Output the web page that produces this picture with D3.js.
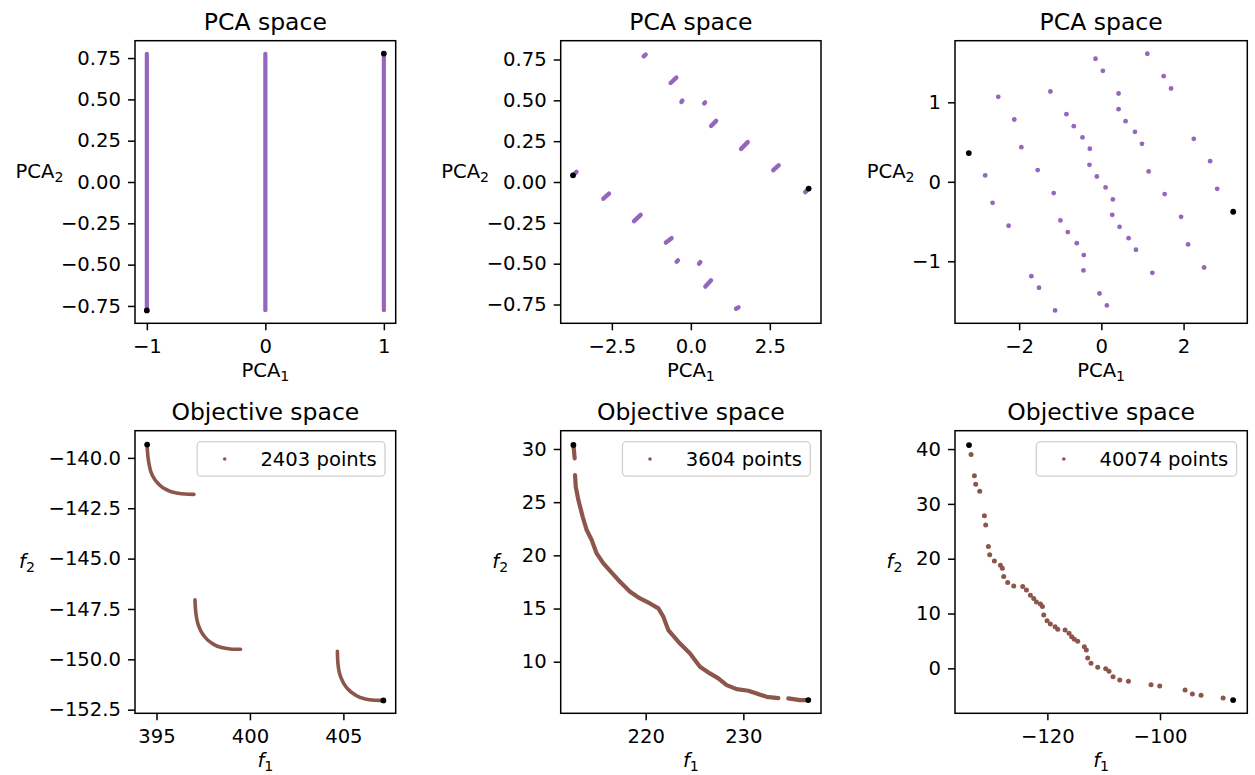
<!DOCTYPE html>
<html><head><meta charset="utf-8">
<script src="https://cdn.jsdelivr.net/npm/d3@7"></script>
<style>
body{margin:0;background:#fff;}
svg text{font-family:"DejaVu Sans",sans-serif;fill:#000;}
</style></head><body>
<svg id="c" width="1255" height="775"></svg>
<script>
// ---------------- data ----------------
const topTitle = "PCA space";
const bottomTitle = "Objective space";
const legendLabels = ["2403 points", "3604 points", "40074 points"];

// Panel 1 (PCA space, left)
const p1LineX = [-1, 0, 1];
const p1LineY = [-0.776, 0.776];
const p1Extremes = [[-1, -0.777], [1, 0.777]];
const p1XDomain = [-1.1, 1.1];
const p1YDomain = [-0.855, 0.855];
const p1XTicks = [-1, 0, 1];
const p1XTickLabels = ["−1", "0", "1"];
const pcaYTicks = [-0.75, -0.5, -0.25, 0, 0.25, 0.5, 0.75];
const pcaYTickLabels = ["−0.75", "−0.50", "−0.25", "0.00", "0.25", "0.50", "0.75"];

// Panel 2 (PCA space, middle): short segments [x0, y0, x1, y1]
const p2Segments = [
  [-1.49, 0.770, -1.43, 0.780],
  [-0.64, 0.606, -0.46, 0.639],
  [-0.30, 0.490, -0.27, 0.498],
  [0.42, 0.481, 0.45, 0.487],
  [0.64, 0.343, 0.80, 0.374],
  [1.59, 0.203, 1.80, 0.244],
  [2.61, 0.072, 2.78, 0.102],
  [3.62, -0.062, 3.70, -0.046],
  [-3.70, 0.046, -3.62, 0.062],
  [-2.77, -0.102, -2.59, -0.071],
  [-1.80, -0.240, -1.59, -0.201],
  [-0.79, -0.371, -0.61, -0.344],
  [-0.45, -0.488, -0.41, -0.480],
  [0.26, -0.500, 0.30, -0.490],
  [0.46, -0.640, 0.64, -0.602],
  [1.43, -0.776, 1.51, -0.767]
];
const p2Extremes = [[-3.73, 0.041], [3.73, -0.040]];
const p2XDomain = [-4.12, 4.12];
const p2YDomain = [-0.865, 0.865];
const p2XTicks = [-2.5, 0, 2.5];
const p2XTickLabels = ["−2.5", "0.0", "2.5"];

// Panel 3 (PCA space, right)
const p3Points = [
  [-0.142,1.548],[0.037,1.396],[1.118,1.611],[1.516,1.329],[1.695,1.174],
  [-2.508,1.069],[-1.240,1.136],[0.419,1.111],[0.419,0.914],[0.589,0.763],
  [0.817,0.629],[0.988,0.478],[2.248,0.541],[-2.118,0.784],[-0.850,0.851],
  [-0.671,0.700],[-0.459,0.558],[-0.280,0.416],[-0.289,0.214],[-0.110,0.067],
  [-1.947,0.436],[-1.549,0.147],[-2.825,0.080],[-2.646,-0.264],[-2.256,-0.553],
  [-1.159,-0.142],[0.102,-0.071],[0.280,-0.222],[0.264,-0.415],[0.443,-0.566],
  [0.663,-0.709],[0.841,-0.855],[1.150,0.130],[1.541,-0.155],[1.939,-0.440],
  [2.110,-0.788],[2.500,-1.078],[2.646,0.260],[2.817,-0.088],[-0.996,-0.486],
  [-0.817,-0.633],[-0.598,-0.772],[-0.427,-0.922],[-0.435,-1.115],[1.240,-1.145],
  [-1.703,-1.187],[-1.516,-1.333],[-1.126,-1.618],[-0.045,-1.405],[0.134,-1.555]
];
const p3Extremes = [[-3.224, 0.361], [3.207, -0.377]];
const p3XDomain = [-3.56, 3.55];
const p3YDomain = [-1.78, 1.775];
const p3XTicks = [-2, 0, 2];
const p3XTickLabels = ["−2", "0", "2"];
const p3YTicks = [-1, 0, 1];
const p3YTickLabels = ["−1", "0", "1"];

// Panel 4 (Objective space, left): three arcs of points [f1, f2]
const p4Arcs = [
  [[394.50,-139.34],[394.51,-139.59],[394.59,-140.25],[394.76,-140.83],[395.09,-141.28],
   [395.54,-141.58],[396.08,-141.74],[396.53,-141.79],[397.00,-141.81]],
  [[397.06,-147.05],[397.10,-147.64],[397.24,-148.30],[397.51,-148.80],[397.93,-149.18],
   [398.47,-149.41],[399.04,-149.50],[399.50,-149.50]],
  [[404.68,-149.60],[404.71,-150.21],[404.86,-150.88],[405.15,-151.38],[405.59,-151.74],
   [406.13,-151.96],[406.67,-152.03],[407.12,-152.04]]
];
const p4Extremes = [[394.50, -139.34], [407.14, -152.04]];
const p4XDomain = [393.85, 407.8];
const p4YDomain = [-152.68, -138.65];
const p4XTicks = [395, 400, 405];
const p4XTickLabels = ["395", "400", "405"];
const p4YTicks = [-140, -142.5, -145, -147.5, -150, -152.5];
const p4YTickLabels = ["−140.0", "−142.5", "−145.0", "−147.5", "−150.0", "−152.5"];

// Panel 5 (Objective space, middle): front pieces [f1, f2]
const p5Pieces = [
  [[212.60,30.38],[212.67,29.75],[212.73,29.12]],
  [[212.77,27.55],[212.84,26.46],[213.11,25.20],[213.55,23.63],[213.96,22.38],
   [214.47,21.44],[214.98,20.18],[215.67,19.24],[216.52,18.37],[217.37,17.52],
   [218.40,16.58],[219.42,15.95],[220.44,15.48],[221.30,15.01],[221.81,14.23],
   [222.32,12.97],[223.34,11.88],[224.54,10.78],[225.56,9.52],[226.58,8.90],
   [227.44,8.43],[228.29,7.80],[229.31,7.42],[230.51,7.27],[231.36,7.01],
   [232.38,6.70],[233.58,6.58]],
  [[234.60,6.55],[235.80,6.39],[236.65,6.39]]
];
const p5Extremes = [[212.60, 30.38], [236.65, 6.39]];
const p5XDomain = [211.3, 237.95];
const p5YDomain = [5.15, 31.72];
const p5XTicks = [220, 230];
const p5XTickLabels = ["220", "230"];
const p5YTicks = [10, 15, 20, 25, 30];
const p5YTickLabels = ["10", "15", "20", "25", "30"];

// Panel 6 (Objective space, right)
const p6Points = [
  [-133.55,39.02],[-132.96,35.13],[-132.72,33.60],[-132.01,32.32],[-131.18,27.82],
  [-130.95,26.17],[-130.47,22.22],[-130.24,20.70],[-129.41,19.60],[-128.34,18.81],
  [-127.99,18.26],[-127.75,16.74],[-127.04,15.64],[-125.97,15.04],[-124.38,14.91],
  [-123.72,14.31],[-123.01,13.33],[-122.42,12.72],[-121.94,12.11],[-121.23,11.75],
  [-120.88,11.26],[-120.64,9.74],[-120.05,8.70],[-119.46,8.09],[-118.63,7.61],
  [-118.16,7.12],[-116.86,7.00],[-116.15,6.39],[-115.68,5.78],[-115.21,5.30],
  [-114.61,4.93],[-113.43,3.95],[-113.08,3.35],[-112.84,1.88],[-112.25,0.91],
  [-111.06,0.18],[-109.64,-0.07],[-109.05,-0.55],[-108.34,-1.52],[-107.15,-2.13],
  [-105.61,-2.37],[-101.59,-2.98],[-100.05,-3.22],[-95.55,-3.95],[-94.25,-4.68],
  [-92.71,-4.93],[-88.80,-5.42]
];
const p6Extremes = [[-133.91, 40.72], [-87.02, -5.78]];
const p6XDomain = [-136.4, -84.5];
const p6YDomain = [-8.2, 43.35];
const p6XTicks = [-120, -100];
const p6XTickLabels = ["−120", "−100"];
const p6YTicks = [0, 10, 20, 30, 40];
const p6YTickLabels = ["0", "10", "20", "30", "40"];

// ---------------- styles / layout ----------------
const PURPLE = "#9467bd", BROWN = "#8c564b";
const cols = [[135, 395.7], [560.7, 821], [955, 1247.3]];
const rows = [[40.7, 323.3], [430.7, 713.3]];
const TICK_FS = 19.6, TITLE_FS = 23.5;

const svg = d3.select("#c");

function subLabel(sel, main, sub, italic) {
  sel.append("tspan").text(main).attr("font-style", italic ? "italic" : null);
  sel.append("tspan").text(sub).attr("font-size", "72%").attr("dy", 4);
}

function panel(col, row, cfg) {
  const [L, R] = cols[col], [T, B] = rows[row];
  const g = svg.append("g");
  const x = d3.scaleLinear().domain(cfg.xDomain).range([L, R]);
  const y = d3.scaleLinear().domain(cfg.yDomain).range([B, T]);
  const plot = g.append("g");
  cfg.draw(plot, x, y);

  // axes
  const ax = d3.axisBottom(x).tickValues(cfg.xTicks)
    .tickFormat((d, i) => cfg.xTickLabels[i]).tickSize(7).tickPadding(9).tickSizeOuter(0);
  const ay = d3.axisLeft(y).tickValues(cfg.yTicks)
    .tickFormat((d, i) => cfg.yTickLabels[i]).tickSize(7).tickPadding(7).tickSizeOuter(0);
  const gx = g.append("g").attr("transform", `translate(0,${B})`).call(ax);
  const gy = g.append("g").attr("transform", `translate(${L},0)`).call(ay);
  [gx, gy].forEach(a => {
    a.attr("font-family", null).attr("font-size", null);
    a.select(".domain").remove();
    a.selectAll("line").attr("stroke", "#000").attr("stroke-width", 1.5);
    a.selectAll("text").attr("font-size", TICK_FS).attr("fill", "#000");
  });

  // frame
  g.append("rect").attr("x", L).attr("y", T).attr("width", R - L).attr("height", B - T)
    .attr("fill", "none").attr("stroke", "#000").attr("stroke-width", 1.5);

  // title
  g.append("text").attr("x", (L + R) / 2).attr("y", T - 11).attr("text-anchor", "middle")
    .attr("font-size", TITLE_FS).text(cfg.title);

  // x label
  const xl = g.append("text").attr("x", (L + R) / 2).attr("y", B + 54)
    .attr("text-anchor", "middle").attr("font-size", TICK_FS);
  subLabel(xl, cfg.xLabel[0], cfg.xLabel[1], cfg.italic);

  // y label (left of the tick labels)
  let minX = Infinity;
  gy.selectAll("text").each(function () {
    const b = this.getBBox();
    minX = Math.min(minX, b.x);
  });
  const yl = g.append("text").attr("x", L + minX - 21.5).attr("y", (T + B) / 2 - 4.5)
    .attr("text-anchor", "middle").attr("font-size", TICK_FS);
  subLabel(yl, cfg.yLabel[0], cfg.yLabel[1], cfg.italic);

  // legend
  if (cfg.legend) {
    const lg = g.append("g");
    const bt = T + 11, bh = 34.5;
    const rectSel = lg.append("rect");
    const txt = lg.append("text").attr("font-size", TICK_FS).text(cfg.legend);
    const tw = txt.node().getComputedTextLength();
    const bw = tw + 63.3 + 8.3;
    const bx = R - 10.7 - bw;
    rectSel.attr("x", bx).attr("y", bt).attr("width", bw).attr("height", bh)
      .attr("rx", 4).attr("fill", "#fff").attr("fill-opacity", 0.8)
      .attr("stroke", "#d0d0d0").attr("stroke-width", 1.3);
    txt.attr("x", bx + 63.3).attr("y", bt + 23.8);
    lg.append("circle").attr("cx", bx + 27.6).attr("cy", bt + 17.3).attr("r", 1.8).attr("fill", BROWN);
  }
}

function blackDots(sel, pts, x, y) {
  sel.selectAll("circle.ext").data(pts).join("circle").attr("class", "ext")
    .attr("cx", d => x(d[0])).attr("cy", d => y(d[1])).attr("r", 2.9).attr("fill", "#000");
}

// Panel 1
panel(0, 0, {
  title: topTitle, xDomain: p1XDomain, yDomain: p1YDomain,
  xTicks: p1XTicks, xTickLabels: p1XTickLabels, yTicks: pcaYTicks, yTickLabels: pcaYTickLabels,
  xLabel: ["PCA", "1"], yLabel: ["PCA", "2"], italic: false,
  draw: (s, x, y) => {
    s.selectAll("line.v").data(p1LineX).join("line").attr("class", "v")
      .attr("x1", d => x(d)).attr("x2", d => x(d))
      .attr("y1", y(p1LineY[0])).attr("y2", y(p1LineY[1]))
      .attr("stroke", PURPLE).attr("stroke-width", 4.2).attr("stroke-linecap", "round");
    blackDots(s, p1Extremes, x, y);
  }
});

// Panel 2
panel(1, 0, {
  title: topTitle, xDomain: p2XDomain, yDomain: p2YDomain,
  xTicks: p2XTicks, xTickLabels: p2XTickLabels, yTicks: pcaYTicks, yTickLabels: pcaYTickLabels,
  xLabel: ["PCA", "1"], yLabel: ["PCA", "2"], italic: false,
  draw: (s, x, y) => {
    s.selectAll("line.seg").data(p2Segments).join("line").attr("class", "seg")
      .attr("x1", d => x(d[0])).attr("y1", d => y(d[1]))
      .attr("x2", d => x(d[2])).attr("y2", d => y(d[3]))
      .attr("stroke", PURPLE).attr("stroke-width", 4.4).attr("stroke-linecap", "round");
    blackDots(s, p2Extremes, x, y);
  }
});

// Panel 3
panel(2, 0, {
  title: topTitle, xDomain: p3XDomain, yDomain: p3YDomain,
  xTicks: p3XTicks, xTickLabels: p3XTickLabels, yTicks: p3YTicks, yTickLabels: p3YTickLabels,
  xLabel: ["PCA", "1"], yLabel: ["PCA", "2"], italic: false,
  draw: (s, x, y) => {
    s.selectAll("circle.p").data(p3Points).join("circle").attr("class", "p")
      .attr("cx", d => x(d[0])).attr("cy", d => y(d[1])).attr("r", 2.4).attr("fill", PURPLE);
    blackDots(s, p3Extremes, x, y);
  }
});

// Panel 4
panel(0, 1, {
  title: bottomTitle, xDomain: p4XDomain, yDomain: p4YDomain,
  xTicks: p4XTicks, xTickLabels: p4XTickLabels, yTicks: p4YTicks, yTickLabels: p4YTickLabels,
  xLabel: ["f", "1"], yLabel: ["f", "2"], italic: true, legend: legendLabels[0],
  draw: (s, x, y) => {
    const line = d3.line().x(d => x(d[0])).y(d => y(d[1])).curve(d3.curveMonotoneY);
    s.selectAll("path.arc").data(p4Arcs).join("path").attr("class", "arc")
      .attr("d", d => line(d)).attr("fill", "none").attr("stroke", BROWN)
      .attr("stroke-width", 3.6).attr("stroke-linecap", "round");
    blackDots(s, p4Extremes, x, y);
  }
});

// Panel 5
panel(1, 1, {
  title: bottomTitle, xDomain: p5XDomain, yDomain: p5YDomain,
  xTicks: p5XTicks, xTickLabels: p5XTickLabels, yTicks: p5YTicks, yTickLabels: p5YTickLabels,
  xLabel: ["f", "1"], yLabel: ["f", "2"], italic: true, legend: legendLabels[1],
  draw: (s, x, y) => {
    const line = d3.line().x(d => x(d[0])).y(d => y(d[1])).curve(d3.curveLinear);
    s.selectAll("path.front").data(p5Pieces).join("path").attr("class", "front")
      .attr("d", d => line(d)).attr("fill", "none").attr("stroke", BROWN)
      .attr("stroke-width", 4.2).attr("stroke-linecap", "round").attr("stroke-linejoin", "round");
    blackDots(s, p5Extremes, x, y);
  }
});

// Panel 6
panel(2, 1, {
  title: bottomTitle, xDomain: p6XDomain, yDomain: p6YDomain,
  xTicks: p6XTicks, xTickLabels: p6XTickLabels, yTicks: p6YTicks, yTickLabels: p6YTickLabels,
  xLabel: ["f", "1"], yLabel: ["f", "2"], italic: true, legend: legendLabels[2],
  draw: (s, x, y) => {
    s.selectAll("circle.p").data(p6Points).join("circle").attr("class", "p")
      .attr("cx", d => x(d[0])).attr("cy", d => y(d[1])).attr("r", 2.5).attr("fill", BROWN);
    blackDots(s, p6Extremes, x, y);
  }
});
</script>
</body></html>
